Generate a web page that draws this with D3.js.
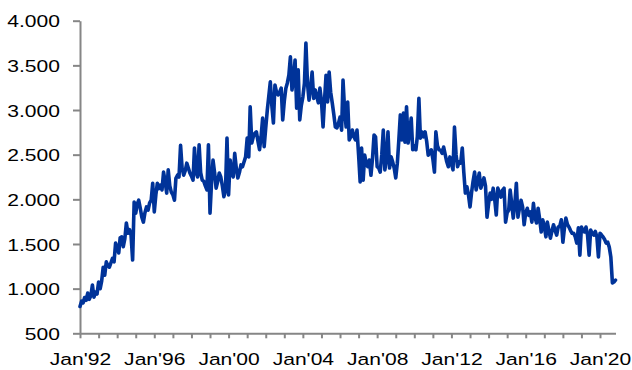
<!DOCTYPE html>
<html>
<head>
<meta charset="utf-8">
<script src="https://cdn.jsdelivr.net/npm/d3@7"></script>
<style>
  html, body { margin: 0; padding: 0; background: #fff; }
  svg { display: block; }
  text { font-family: "Liberation Sans", Arial, sans-serif; fill: #000; }
</style>
</head>
<body>
<svg id="chart" width="632" height="370"></svg>
<script>
// Monthly series, starting January 1992
const startMonth = "1992-01";
const values = [
  // 1992
  800, 860, 840, 900, 870, 950, 880, 920, 1040, 905, 960, 940,
  // 1993
  1075, 1000, 1080, 1240, 1150, 1300, 1260, 1240, 1290, 1340, 1300, 1510,
  // 1994
  1460, 1400, 1570, 1580, 1470, 1560, 1735, 1620, 1660, 1600, 1320, 1970,
  // 1995
  1845, 1950, 1990, 1900, 1800, 1745, 1850, 1915, 1880, 1960, 1990, 2180,
  // 1996
  1860, 2050, 2180, 2120, 2160, 2105, 2305, 2200, 2070, 2330, 2150, 2080,
  // 1997
  2050, 1990, 2235, 2270, 2250, 2605, 2350, 2270, 2320, 2405, 2350, 2295,
  // 1998
  2260, 2215, 2575, 2300, 2250, 2610, 2300, 2215, 2200, 2150, 2105, 2610,
  // 1999
  1845, 2200, 2440, 2300, 2125, 2200, 2295, 2250, 2150, 2030, 2100, 2685,
  // 2000
  2050, 2440, 2300, 2250, 2515, 2350, 2240, 2300, 2385, 2365, 2420, 2475,
  // 2001
  2685, 2475, 3035, 2630, 2700, 2740, 2755, 2650, 2555, 2700, 2910, 2590,
  // 2002
  2800, 3000, 3150, 3315, 3050, 2855, 3280, 3200, 3170, 3200, 3245, 2890,
  // 2003
  3100, 3245, 3300, 3390, 3595, 3225, 3350, 3560, 3020, 3450, 2890, 3050,
  // 2004
  3145, 3300, 3750, 3300, 3110, 3250, 3425, 3130, 3225, 3150, 3080, 3245,
  // 2005
  3100, 2810, 3100, 3390, 3090, 3425, 3200, 3080, 2950, 2810, 2800, 2850,
  // 2006
  2920, 2775, 3335, 3000, 2810, 3090, 2665, 2700, 2775, 2700, 2665, 2775,
  // 2007
  2500, 2195, 2575, 2215, 2495, 2400, 2365, 2440, 2270, 2450, 2720, 2700,
  // 2008
  2365, 2350, 2305, 2500, 2775, 2330, 2450, 2755, 2350, 2475, 2420, 2350,
  // 2009
  2240, 2405, 2650, 2945, 2665, 2965, 2640, 3035, 2630, 2750, 2910, 2555,
  // 2010
  2600, 2555, 2700, 3130, 2685, 2755, 2700, 2755, 2650, 2495, 2520, 2555,
  // 2011
  2450, 2305, 2755, 2600, 2555, 2550, 2515, 2585, 2500, 2420, 2365, 2475,
  // 2012
  2400, 2330, 2810, 2500, 2365, 2420, 2405, 2575, 2300, 2070, 2140, 2050,
  // 2013
  1915, 2080, 2200, 2305, 2105, 2200, 2295, 2125, 2180, 2240, 2150, 1800,
  // 2014
  1950, 2070, 2000, 2125, 2000, 1825, 2125, 2080, 2025, 2100, 2125, 1745,
  // 2015
  1850, 1880, 2105, 1950, 1790, 1950, 2180, 1800, 1900, 1990, 1915, 1715,
  // 2016
  1850, 1900, 1820, 1860, 1745, 1955, 1800, 1735, 1900, 1780, 1635, 1770,
  // 2017
  1700, 1580, 1745, 1650, 1565, 1650, 1715, 1650, 1600, 1690, 1700, 1770,
  // 2018
  1520, 1680, 1790, 1720, 1690, 1650, 1620, 1620, 1580, 1510, 1680, 1375,
  // 2019
  1690, 1650, 1635, 1690, 1600, 1375, 1655, 1620, 1600, 1640, 1580, 1355,
  // 2020
  1620, 1600, 1580, 1550, 1510, 1520, 1465, 1355, 1065, 1075, 1095
];

// Axis ticks and labels
const yTicks = [500, 1000, 1500, 2000, 2500, 3000, 3500, 4000];
const labelYears = [1992, 1996, 2000, 2004, 2008, 2012, 2016, 2020];

const svg = d3.select("#chart");
const axisColor = "#868686";
const lineColor = "#003399";
const textScaleX = 1.24;

const parseMonth = d3.timeParse("%Y-%m");
const d0 = parseMonth(startMonth);
const data = values.map((v, i) => ({ date: d3.timeMonth.offset(d0, i), value: v }));
const lastDate = data[data.length - 1].date;

// Year ticks run from Jan'92 at x=80 to Jan'20 at x=600; the axis continues to the last month
const xRef = d3.scaleTime().domain([d0, new Date(2020, 0, 1)]).range([80, 600]);
const x = d3.scaleTime().domain([d0, lastDate]).range([80, xRef(lastDate)]);
const y = d3.scaleLinear().domain([500, 4000]).range([333.3, 20.7]);

const locale = d3.formatLocale({ decimal: ",", thousands: ".", grouping: [3], currency: ["", ""] });
const fmt = locale.format(",d");

// Y axis
const gy = svg.append("g")
  .attr("transform", "translate(80,0)")
  .call(d3.axisLeft(y).tickValues(yTicks).tickSize(7).tickSizeOuter(0).tickFormat(fmt));
gy.select(".domain").attr("stroke", axisColor).attr("stroke-width", 2);
gy.selectAll(".tick line").attr("stroke", axisColor).attr("stroke-width", 2);
gy.selectAll(".tick text")
  .attr("x", 0)
  .attr("dy", "0.36em")
  .attr("text-anchor", "end")
  .attr("transform", `translate(-20,0) scale(${textScaleX},1)`)
  .style("font-size", "17px")
  .style("fill", "#000");

// X axis with yearly tick marks, labels every four years
const gx = svg.append("g")
  .attr("transform", "translate(0,333.3)")
  .call(d3.axisBottom(x)
    .ticks(d3.timeYear.every(1))
    .tickSize(5)
    .tickSizeOuter(0)
    .tickFormat(d => labelYears.includes(d.getFullYear()) ? "Jan'" + d3.timeFormat("%y")(d) : ""));
gx.select(".domain").attr("stroke", axisColor).attr("stroke-width", 2);
gx.selectAll(".tick line").attr("stroke", axisColor).attr("stroke-width", 2);
gx.selectAll(".tick text")
  .attr("y", 0)
  .attr("dy", 0)
  .attr("text-anchor", "middle")
  .attr("transform", `translate(0,31.4) scale(${textScaleX},1)`)
  .style("font-size", "17px")
  .style("fill", "#000");

// Series line
const line = d3.line()
  .x(d => x(d.date))
  .y(d => y(d.value));

svg.append("path")
  .datum(data)
  .attr("d", line)
  .attr("fill", "none")
  .attr("stroke", lineColor)
  .attr("stroke-width", 3.6)
  .attr("stroke-linejoin", "round")
  .attr("stroke-linecap", "round");
</script>
</body>
</html>
